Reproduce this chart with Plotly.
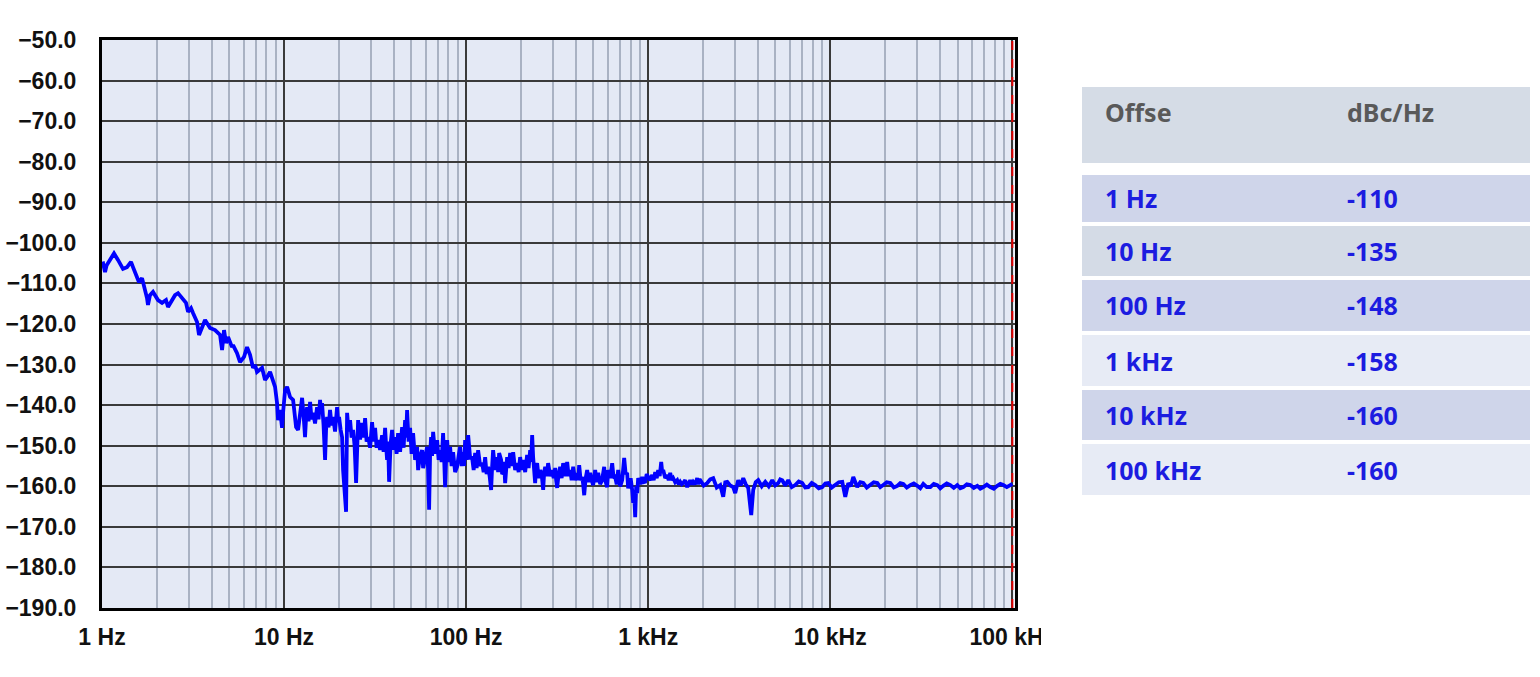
import plotly.graph_objects as go

# ---- data ----
# 1 Hz .. 12 Hz
freq_seg1 = [
    1.009, 1.039, 1.061, 1.164, 1.224, 1.304, 1.372, 1.443, 1.480, 1.557, 1.597, 1.659, 1.701, 1.767,
    1.789, 1.835, 1.906, 2.031, 2.137, 2.247, 2.305, 2.394, 2.518, 2.616, 2.752, 2.894, 2.969, 3.083,
    3.162, 3.327, 3.412, 3.544, 3.681, 3.823, 3.921, 4.178, 4.451, 4.565, 4.681, 4.801, 4.924, 5.179,
    5.245, 5.518, 5.731, 6.028, 6.261, 6.503, 6.754, 6.928, 7.105, 7.570, 7.864, 8.064, 8.377, 8.591,
    8.923, 9.152, 9.268, 9.506, 9.750, 9.874, 10.13, 10.39, 10.79, 11.21, 11.64, 11.94,
]
level_seg1 = [
    -104.6, -107.2, -105.5, -102.6, -104.2, -106.4, -106.0, -104.7, -106.0, -108.4, -109.7, -108.7, -110.4, -113.6,
    -115.3, -112.9, -112.1, -114.1, -114.8, -114.1, -115.8, -114.6, -112.9, -112.4, -113.6, -114.8, -117.0, -116.1,
    -117.3, -119.5, -122.7, -120.7, -119.0, -120.2, -121.0, -121.5, -122.7, -126.4, -121.5, -124.7, -123.2, -125.7,
    -125.2, -127.2, -129.4, -128.1, -125.7, -127.6, -130.8, -130.1, -131.8, -130.8, -133.8, -133.1, -131.8, -133.3,
    -135.5, -139.5, -143.7, -141.2, -145.6, -141.9, -136.3, -135.5, -138.0, -138.7, -145.4, -146.1,
]
# 12 Hz .. 152 Hz
freq_seg2 = [
    12.24, 12.56, 12.80, 13.04, 13.21, 13.38, 13.63, 13.90, 14.16, 14.43,
    14.80, 15.18, 15.47, 15.77, 15.97, 16.17, 16.48, 16.80, 17.01, 17.23,
    17.56, 17.89, 18.24, 18.59, 19.06, 19.55, 19.80, 20.05, 20.44, 20.83,
    21.10, 21.91, 22.19, 22.62, 23.05, 23.49, 23.94, 24.40, 24.87, 25.18,
    25.51, 26.16, 26.83, 27.34, 27.87, 28.40, 28.94, 29.69, 30.44, 31.03,
    31.62, 32.23, 32.85, 33.69, 34.55, 35.22, 35.89, 36.34, 36.81, 37.28,
    37.75, 38.48, 39.21, 39.96, 40.73, 41.50, 42.30, 43.39, 44.51, 45.36,
    46.22, 46.81, 47.40, 48.32, 49.24, 50.18, 51.14, 52.46, 53.80, 54.49,
    55.88, 57.31, 58.04, 58.78, 59.93, 61.05, 61.83, 62.61, 63.41, 64.22,
    65.04, 65.87, 67.56, 69.28, 70.62, 71.96, 73.35, 74.74, 75.70, 76.66,
    77.64, 78.64, 80.14, 81.67, 83.22, 84.83, 87.00, 89.23, 90.95, 92.68,
    94.47, 96.27, 97.50, 98.74, 100.6, 102.6, 105.2, 107.9, 110.0, 112.1,
    114.2, 116.4, 119.4, 122.4, 124.8, 127.2, 129.6, 132.1, 134.6, 137.2,
    139.0, 140.7, 144.3, 148.0, 149.9, 151.8,
]
level_seg2 = [
    -141.5, -138.2, -142.5, -147.9, -143.0, -140.5, -144.0, -139.2, -143.5, -141.9,
    -144.5, -140.5, -143.5, -138.7, -142.0, -139.5, -145.0, -153.5, -146.0, -142.9,
    -145.5, -141.2, -145.0, -142.9, -146.5, -140.5, -144.0, -142.9, -146.0, -147.9,
    -156.0, -166.3, -141.9, -146.5, -143.7, -148.0, -146.1, -150.0, -159.2, -148.0,
    -143.7, -148.5, -144.4, -148.0, -143.2, -149.0, -147.9, -150.5, -144.2, -149.0,
    -145.6, -150.5, -148.6, -151.0, -147.4, -151.5, -145.6, -150.0, -153.5, -149.0,
    -158.9, -149.5, -146.1, -151.0, -147.9, -152.0, -146.9, -151.5, -145.4, -150.5,
    -143.7, -148.0, -141.2, -149.0, -145.6, -152.0, -146.9, -153.5, -150.3, -156.0,
    -152.5, -151.1, -155.5, -154.3, -152.0, -150.3, -156.0, -165.8, -152.0, -147.9,
    -152.5, -146.6, -152.0, -148.6, -153.5, -151.1, -154.0, -146.9, -153.0, -160.2,
    -153.0, -148.6, -154.0, -150.3, -155.0, -151.6, -156.5, -155.2, -152.5, -150.3,
    -155.0, -151.6, -155.0, -148.6, -153.5, -147.4, -153.0, -153.0, -156.0, -151.8,
    -155.5, -151.1, -155.0, -154.3, -156.5, -152.8, -157.0, -155.2, -157.5, -160.9,
    -155.0, -151.1, -156.0, -152.8, -156.5, -151.8,
]
# 155 Hz .. 1.9 kHz
freq_seg3 = [
    155.7, 157.7, 159.7, 161.7, 163.8, 165.9, 168.0, 171.2, 174.5, 177.8,
    181.3, 185.9, 190.6, 194.3, 198.0, 201.8, 205.7, 211.0, 216.3, 220.5,
    224.7, 227.6, 230.5, 233.4, 236.4, 239.4, 242.5, 245.5, 250.3, 255.1,
    259.9, 265.0, 268.3, 271.8, 276.9, 282.1, 289.4, 296.9, 302.5, 308.3,
    312.3, 316.2, 322.2, 328.5, 334.7, 341.2, 349.9, 358.9, 365.8, 372.8,
    379.9, 387.2, 397.1, 407.3, 412.5, 417.8, 425.7, 434.0, 439.5, 445.1,
    453.5, 462.2, 471.1, 480.1, 489.3, 498.6, 504.9, 511.4, 521.2, 531.2,
    544.8, 558.9, 562.3, 573.1, 580.3, 595.3, 602.8, 618.2, 634.2, 646.2,
    658.7, 671.3, 684.2, 701.7, 719.6, 728.7, 738.0, 752.2, 766.6, 776.4,
    786.4, 801.3, 816.7, 827.1, 837.7, 848.3, 859.1, 870.0, 881.1, 903.6,
    926.8, 944.7, 962.7, 981.3, 1000, 1026, 1052, 1072, 1093, 1114,
    1135, 1157, 1179, 1194, 1209, 1240, 1272, 1296, 1321, 1346,
    1372, 1407, 1443, 1471, 1499, 1528, 1557, 1597, 1638, 1669,
    1701, 1734, 1767, 1813, 1859, 1882, 1906,
]
level_seg3 = [
    -153.5, -157.0, -156.7, -154.0, -159.2, -155.0, -152.8, -155.5, -151.8, -155.0,
    -151.6, -156.0, -154.3, -156.5, -152.8, -156.0, -153.5, -156.5, -152.3, -155.5,
    -151.1, -154.0, -147.4, -152.8, -156.5, -159.2, -155.0, -154.3, -158.0, -156.0,
    -157.0, -160.9, -156.5, -155.2, -157.5, -154.3, -157.5, -156.0, -158.0, -155.5,
    -158.5, -160.4, -157.0, -155.2, -158.0, -154.3, -157.5, -154.0, -157.5, -156.0,
    -158.5, -155.2, -158.5, -156.7, -158.5, -154.8, -158.5, -157.7, -159.5, -162.2,
    -158.0, -156.0, -159.0, -156.7, -158.5, -159.7, -158.0, -156.0, -159.0, -156.7,
    -159.5, -158.5, -157.5, -155.2, -158.5, -160.2, -156.0, -158.0, -154.3, -158.0,
    -157.7, -159.5, -156.0, -160.0, -158.5, -156.0, -153.0, -157.0, -156.7, -160.5,
    -159.2, -158.0, -160.9, -164.1, -162.0, -167.6, -160.0, -161.7, -158.0, -159.5,
    -157.7, -159.0, -158.9, -157.0, -157.7, -158.5, -157.2, -158.5, -156.5, -158.0,
    -156.0, -157.5, -154.0, -156.5, -156.0, -158.0, -157.2, -158.5, -156.7, -158.5,
    -158.0, -159.0, -158.5, -159.5, -158.9, -159.5, -159.2, -158.5, -160.2, -159.0,
    -158.5, -159.5, -158.9, -159.5, -158.0, -159.5, -158.5,
]
# 1.9 kHz .. 100 kHz
freq_seg4 = [
    1931, 2018, 2110, 2191, 2276, 2379, 2487, 2583, 2650, 2718,
    2821, 2931, 3006, 3122, 3222, 3327, 3434, 3544, 3681, 3775,
    3897, 4022, 4204, 4395, 4594, 4801, 4986, 5179, 5312, 5449,
    5657, 5878, 6144, 6422, 6713, 7017, 7287, 7570, 7914, 8271,
    8646, 9036, 9387, 9750, 10190, 10650, 11140, 11640, 12090, 12560,
    12960, 13380, 13720, 14070, 14620, 15180, 15870, 16590, 17340, 18130,
    18830, 19550, 20440, 21370, 22340, 23340, 24250, 25180, 26320, 27520,
    28760, 30060, 31220, 32430, 33900, 35440, 37040, 38720, 40220, 41780,
    43660, 45650, 47700, 49860, 51790, 53800, 56230, 58780, 61440, 64220,
    66710, 69280, 72430, 75700, 79140, 82710, 85910, 89230, 93280, 97500,
    100000,
]
level_seg4 = [
    -158.5, -159.8, -159.2, -158.3, -158.0, -160.3, -159.7, -162.6, -159.0, -158.9,
    -159.8, -160.2, -161.7, -158.5, -159.8, -158.0, -159.5, -160.4, -167.1, -160.9,
    -159.0, -158.5, -160.0, -158.9, -160.0, -158.5, -159.8, -159.2, -158.3, -158.5,
    -159.8, -158.5, -160.2, -159.7, -158.8, -159.2, -160.3, -160.2, -159.2, -159.7,
    -160.5, -160.2, -159.3, -159.2, -160.3, -159.7, -159.0, -158.9, -162.6, -159.2,
    -160.0, -157.7, -159.0, -160.2, -159.0, -159.2, -160.3, -159.7, -159.0, -159.2,
    -160.2, -159.7, -159.0, -159.2, -160.3, -159.9, -159.2, -159.4, -160.3, -159.7,
    -159.3, -159.9, -160.5, -159.4, -160.2, -160.2, -159.4, -159.7, -160.5, -159.9,
    -159.3, -159.7, -160.4, -159.7, -160.5, -160.2, -159.5, -159.7, -160.4, -159.9,
    -160.6, -160.2, -159.6, -160.2, -160.6, -159.9, -159.4, -159.7, -160.2, -159.7,
    -159.4,
]

x_tick_vals = [1, 10, 100, 1000, 10000, 100000]
x_tick_text = ["1 Hz", "10 Hz", "100 Hz", "1 kHz", "10 kHz", "100 kHz"]
y_tick_vals = [-50, -60, -70, -80, -90, -100, -110, -120, -130, -140, -150, -160, -170, -180, -190]
marker_freq = [100000, 100000]
marker_level = [-190, -50]

table_header = ["Offse", "dBc/Hz"]
table_offsets = ["1 Hz", "10 Hz", "100 Hz", "1 kHz", "10 kHz", "100 kHz"]
table_values = ["-110", "-135", "-148", "-158", "-160", "-160"]

freq_hz = freq_seg1 + freq_seg2 + freq_seg3 + freq_seg4
phase_noise_dbc = level_seg1 + level_seg2 + level_seg3 + level_seg4

W, H = 1540, 677

fig = go.Figure()
fig.add_trace(go.Scatter(x=freq_hz, y=phase_noise_dbc, mode="lines",
                         line=dict(color="#0000ff", width=3.8), showlegend=False))
fig.add_trace(go.Scatter(x=marker_freq, y=marker_level, mode="lines",
                         line=dict(color="#e00000", width=2, dash="dash"), showlegend=False))

axis_font = dict(family="Liberation Sans, Arial", size=23, color="#111111", weight="bold")

fig.update_xaxes(
    type="log", range=[0, 5.012], domain=[102 / W, 1014.5 / W],
    tickvals=x_tick_vals, ticktext=x_tick_text, tickfont=axis_font,
    showgrid=True, gridcolor="#3a3a3a", gridwidth=2,
    minor=dict(showgrid=True, dtick="D1", gridcolor="#a9b2c3", gridwidth=2, ticks=""),
    showline=True, linecolor="#000000", linewidth=3, mirror=True,
    ticks="", ticklabelstandoff=6, zeroline=False, fixedrange=True, automargin=False,
)
fig.update_yaxes(
    range=[-190, -50], domain=[1 - 608 / H, 1 - 40 / H],
    tickvals=y_tick_vals, tickformat=".1f", tickfont=axis_font,
    showgrid=True, gridcolor="#3a3a3a", gridwidth=2,
    showline=True, linecolor="#000000", linewidth=3, mirror=True,
    ticks="", ticklabelstandoff=18, zeroline=False, fixedrange=True, automargin=False,
)

shapes = []
annotations = []


def px_x(v):
    return v / W


def px_y(v):
    return 1 - v / H


# white cover clipping the last tick label as in the reference
shapes.append(dict(type="rect", xref="paper", yref="paper", layer="above",
                   x0=px_x(1041), x1=px_x(1078), y0=px_y(660), y1=px_y(612),
                   fillcolor="#ffffff", line=dict(width=0)))

# table
tx0, tx1 = 1082, 1530
shapes.append(dict(type="rect", xref="paper", yref="paper", layer="above",
                   x0=px_x(tx0), x1=px_x(tx1), y0=px_y(163), y1=px_y(87),
                   fillcolor="#d5dce6", line=dict(width=0)))
row_bounds = [(175, 222), (226, 276), (280, 331), (335, 386), (390, 440), (444, 495)]
row_colors = ["#cfd5ea", "#d4dbe6", "#cfd5ea", "#e7ebf5", "#cfd5ea", "#e7ebf5"]
hdr_font = dict(family="Noto Sans, Open Sans", size=25, color="#595959", weight="bold")
row_font = dict(family="Noto Sans, Open Sans", size=25, color="#1c1ce0", weight="bold")
annotations.append(dict(xref="paper", yref="paper", x=px_x(1103), y=px_y(112), text=table_header[0],
                        showarrow=False, xanchor="left", yanchor="middle", font=hdr_font))
annotations.append(dict(xref="paper", yref="paper", x=px_x(1345), y=px_y(112), text=table_header[1],
                        showarrow=False, xanchor="left", yanchor="middle", font=hdr_font))
for (y0, y1), col, off, val in zip(row_bounds, row_colors, table_offsets, table_values):
    shapes.append(dict(type="rect", xref="paper", yref="paper", layer="above",
                       x0=px_x(tx0), x1=px_x(tx1), y0=px_y(y1), y1=px_y(y0),
                       fillcolor=col, line=dict(width=0)))
    yc = (y0 + y1) / 2
    annotations.append(dict(xref="paper", yref="paper", x=px_x(1103), y=px_y(yc), text=off,
                            showarrow=False, xanchor="left", yanchor="middle", font=row_font))
    annotations.append(dict(xref="paper", yref="paper", x=px_x(1345), y=px_y(yc), text=val,
                            showarrow=False, xanchor="left", yanchor="middle", font=row_font))

fig.update_layout(
    width=W, height=H, margin=dict(l=0, r=0, t=0, b=0, autoexpand=False),
    paper_bgcolor="#ffffff", plot_bgcolor="#e4e9f5",
    shapes=shapes, annotations=annotations, showlegend=False,
)

fig.write_html("out.html", config={"displayModeBar": False})
